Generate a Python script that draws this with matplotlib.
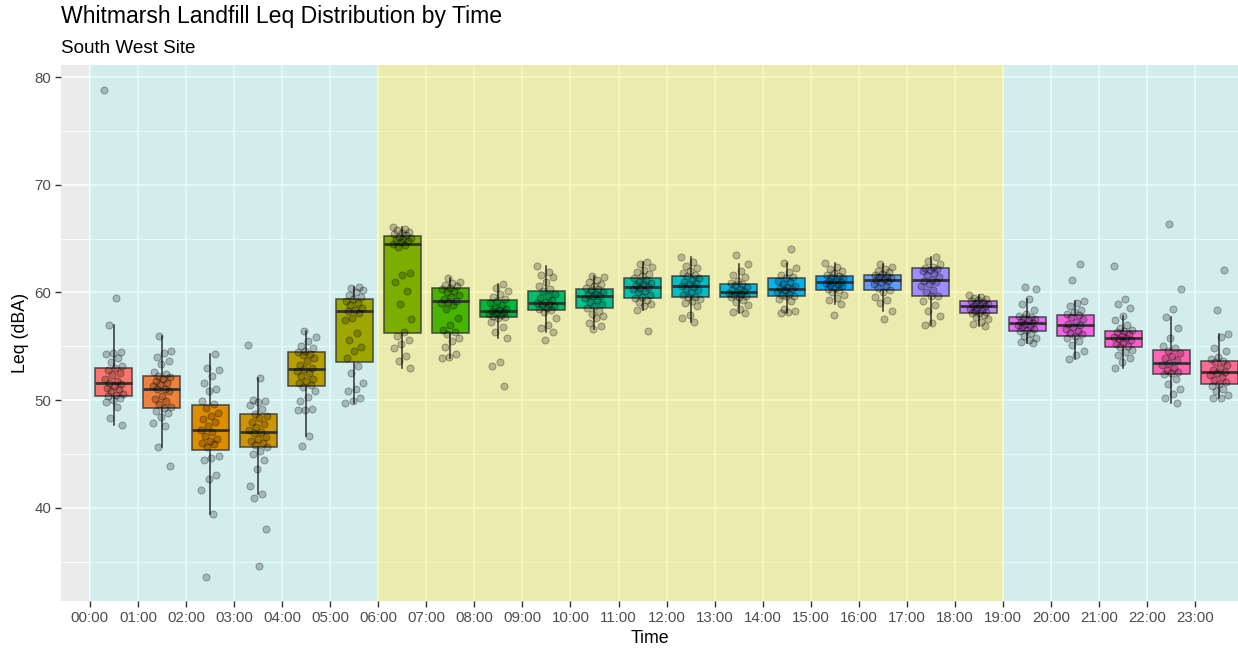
import numpy as np
import matplotlib
matplotlib.use("Agg")
import matplotlib.pyplot as plt

plt.rcParams['font.family'] = ['Liberation Sans', 'DejaVu Sans']

hours = list(range(24))
hour_labels = ["%02d:00" % h for h in hours]

# box statistics per hour: whisker low, Q1, median, Q3, whisker high
whis_lo = [47.7, 45.6, 39.4, 41.3, 46.65, 49.7, 53.0, 53.9, 55.75, 56.35, 56.65, 58.4,
           57.3, 58.1, 58.1, 58.9, 58.3, 56.95, 56.9, 55.35, 53.85, 53.0, 49.75, 50.15]
q1 = [50.35, 49.25, 45.4, 45.6, 51.3, 53.5, 56.2, 56.25, 57.7, 58.4, 58.55, 59.5,
      59.55, 59.55, 59.65, 60.25, 60.25, 59.65, 58.05, 56.4, 56.0, 54.9, 52.4, 51.5]
median = [51.6, 51.05, 47.25, 47.0, 52.85, 58.3, 64.55, 59.25, 58.3, 59.0, 59.65, 60.55,
          60.6, 60.0, 60.35, 60.95, 61.2, 61.2, 58.7, 57.2, 56.95, 55.8, 53.45, 52.6]
q3 = [53.0, 52.2, 49.5, 48.75, 54.45, 59.4, 65.25, 60.4, 59.3, 60.15, 60.3, 61.3,
      61.5, 60.8, 61.3, 61.5, 61.6, 62.25, 59.2, 57.7, 57.95, 56.4, 54.7, 53.6]
whis_hi = [57.0, 56.0, 54.3, 52.05, 56.4, 60.55, 66.1, 61.35, 60.75, 62.45, 61.5, 62.8,
           63.3, 62.65, 62.7, 62.75, 62.6, 63.3, 59.8, 59.35, 59.25, 57.8, 57.7, 56.1]

# individual Leq readings per hour
leq_00 = [78.8, 59.5, 57.0, 54.5, 54.4, 54.3, 53.9, 53.5, 53.2, 53.0, 52.8, 52.5, 52.3, 52.0, 51.8,
          51.6, 51.5, 51.3, 51.1, 51.0, 50.8, 50.6, 50.5, 50.35, 50.2, 50.0, 49.8, 49.4, 48.3, 47.7]
leq_01 = [56.0, 54.6, 54.4, 54.0, 53.6, 53.4, 52.6, 52.4, 52.2, 52.1, 52.0, 51.8, 51.6, 51.5, 51.3,
          51.05, 51.0, 50.8, 50.4, 50.1, 49.9, 49.6, 49.4, 49.25, 49.0, 48.8, 48.4, 47.9, 47.6, 45.6, 43.9]
leq_02 = [54.3, 53.0, 52.8, 52.2, 51.6, 51.0, 50.8, 49.9, 49.6, 49.3, 48.8, 48.5, 48.2, 48.0, 47.6,
          47.25, 47.0, 46.7, 46.4, 46.2, 46.0, 45.9, 45.6, 44.8, 44.6, 44.4, 43.0, 42.7, 41.6, 39.4, 33.6]
leq_03 = [55.1, 52.05, 50.0, 49.9, 49.8, 49.5, 49.2, 48.7, 48.5, 48.3, 48.0, 47.8, 47.5, 47.2, 47.0,
          46.9, 46.6, 46.4, 46.2, 46.0, 45.8, 45.6, 45.3, 45.0, 44.4, 43.6, 42.0, 41.3, 40.9, 38.0, 34.6]
leq_04 = [56.4, 55.9, 55.5, 55.0, 54.8, 54.6, 54.5, 54.3, 54.2, 53.9, 53.6, 53.3, 53.0, 52.85, 52.7,
          52.5, 52.2, 52.0, 51.8, 51.6, 51.4, 51.2, 50.8, 50.3, 49.9, 49.2, 49.1, 49.1, 46.65, 45.7]
leq_05 = [60.55, 60.4, 60.2, 60.0, 59.8, 59.6, 59.4, 59.2, 59.0, 58.8, 58.6, 58.4, 58.3, 58.1, 57.6,
          57.4, 56.2, 55.6, 54.9, 54.6, 53.9, 53.2, 52.5, 51.6, 51.0, 50.8, 50.2, 49.9, 49.7]
leq_06 = [66.1, 65.9, 65.8, 65.6, 65.5, 65.4, 65.3, 65.2, 65.1, 65.0, 64.9, 64.8, 64.7, 64.55, 64.4,
          64.2, 61.8, 61.6, 61.0, 60.1, 58.9, 57.5, 56.3, 56.0, 55.6, 55.2, 54.8, 54.1, 53.6, 53.0]
leq_07 = [61.35, 61.0, 60.9, 60.7, 60.6, 60.4, 60.3, 60.1, 60.0, 59.8, 59.6, 59.4, 59.25, 59.1, 59.0,
          58.8, 58.5, 57.6, 57.0, 56.5, 56.3, 56.1, 55.8, 55.5, 54.9, 54.3, 54.0, 53.9]
leq_08 = [60.75, 60.4, 60.1, 59.9, 59.6, 59.4, 59.2, 59.0, 58.8, 58.6, 58.5, 58.4, 58.3, 58.2, 58.1,
          58.0, 57.9, 57.8, 57.7, 57.6, 57.3, 56.8, 56.3, 55.75, 53.5, 53.2, 51.3]
leq_09 = [62.45, 61.9, 61.6, 61.4, 61.0, 60.6, 60.3, 60.1, 59.9, 59.7, 59.5, 59.3, 59.1, 59.0, 58.9,
          58.8, 58.7, 58.6, 58.5, 58.4, 58.2, 57.6, 57.0, 56.7, 56.35, 55.6]
leq_10 = [61.5, 61.4, 61.2, 61.0, 60.8, 60.6, 60.4, 60.3, 60.2, 60.0, 59.9, 59.8, 59.7, 59.65, 59.5,
          59.3, 59.1, 58.9, 58.7, 58.55, 58.3, 58.0, 57.8, 57.6, 57.2, 56.9, 56.65]
leq_11 = [62.8, 62.6, 62.4, 62.1, 61.9, 61.7, 61.5, 61.3, 61.2, 61.0, 60.9, 60.8, 60.7, 60.55, 60.4,
          60.3, 60.1, 60.0, 59.8, 59.6, 59.5, 59.3, 59.1, 58.9, 58.7, 58.4, 56.4]
leq_12 = [63.3, 62.8, 62.5, 62.3, 62.0, 61.8, 61.6, 61.5, 61.3, 61.2, 61.0, 60.9, 60.8, 60.6, 60.5,
          60.3, 60.2, 60.0, 59.8, 59.6, 59.55, 59.4, 59.2, 59.0, 58.7, 57.9, 57.6, 57.3]
leq_13 = [63.5, 62.65, 62.0, 61.6, 61.4, 61.1, 60.9, 60.8, 60.7, 60.5, 60.3, 60.2, 60.1, 60.0, 59.95,
          59.9, 59.8, 59.7, 59.6, 59.55, 59.3, 59.1, 58.8, 58.5, 58.2, 58.1]
leq_14 = [64.0, 62.7, 62.3, 61.9, 61.6, 61.4, 61.3, 61.1, 61.0, 60.8, 60.6, 60.5, 60.4, 60.35, 60.2,
          60.0, 59.9, 59.8, 59.7, 59.65, 59.4, 59.2, 58.5, 58.3, 58.2, 58.1]
leq_15 = [62.75, 62.4, 62.2, 62.0, 61.8, 61.6, 61.5, 61.4, 61.3, 61.2, 61.1, 61.0, 60.95, 60.9, 60.8,
          60.7, 60.6, 60.4, 60.3, 60.25, 60.0, 59.8, 59.5, 59.3, 58.9, 57.9]
leq_16 = [62.6, 62.4, 62.2, 62.0, 61.9, 61.7, 61.6, 61.5, 61.4, 61.3, 61.25, 61.2, 61.1, 61.0, 60.8,
          60.6, 60.4, 60.25, 60.0, 59.6, 59.3, 59.0, 58.3, 57.5]
leq_17 = [63.3, 62.9, 62.6, 62.4, 62.3, 62.2, 62.1, 62.0, 61.8, 61.6, 61.4, 61.2, 61.1, 61.0, 60.8,
          60.6, 60.2, 60.0, 59.7, 59.65, 59.2, 58.8, 58.3, 57.8, 57.2, 56.95]
leq_18 = [59.8, 59.6, 59.5, 59.4, 59.3, 59.2, 59.1, 59.0, 58.9, 58.8, 58.7, 58.7, 58.6, 58.5, 58.4,
          58.3, 58.2, 58.1, 58.05, 57.9, 57.7, 57.5, 57.3, 57.1, 56.9]
leq_19 = [60.5, 60.3, 59.35, 58.9, 58.4, 58.0, 57.8, 57.7, 57.6, 57.5, 57.4, 57.3, 57.2, 57.1, 57.0,
          56.9, 56.8, 56.6, 56.5, 56.4, 56.2, 56.0, 55.8, 55.6, 55.4, 55.35]
leq_20 = [62.6, 61.2, 59.25, 59.0, 58.7, 58.4, 58.2, 58.0, 57.9, 57.7, 57.5, 57.3, 57.1, 56.95, 56.8,
          56.6, 56.4, 56.2, 56.1, 56.0, 55.8, 55.5, 55.1, 54.6, 54.2, 53.85]
leq_21 = [62.45, 59.4, 58.9, 58.6, 57.8, 57.4, 57.0, 56.7, 56.5, 56.4, 56.3, 56.1, 56.0, 55.9, 55.8,
          55.7, 55.6, 55.4, 55.2, 55.0, 54.9, 54.7, 54.5, 54.2, 53.9, 53.5, 53.0]
leq_22 = [66.4, 60.3, 58.5, 57.7, 56.7, 55.8, 55.0, 54.8, 54.6, 54.4, 54.1, 53.9, 53.7, 53.45, 53.3,
          53.0, 52.8, 52.6, 52.5, 52.4, 52.0, 51.5, 51.0, 50.6, 50.2, 49.75]
leq_23 = [62.1, 58.35, 56.1, 55.9, 54.8, 54.6, 54.0, 53.8, 53.6, 53.5, 53.3, 53.0, 52.8, 52.6, 52.5,
          52.3, 52.1, 51.9, 51.7, 51.5, 51.3, 51.0, 50.8, 50.5, 50.2, 50.15]

readings = [leq_00, leq_01, leq_02, leq_03, leq_04, leq_05, leq_06, leq_07, leq_08, leq_09,
            leq_10, leq_11, leq_12, leq_13, leq_14, leq_15, leq_16, leq_17, leq_18, leq_19,
            leq_20, leq_21, leq_22, leq_23]

# day / night periods (start hour, end hour, fill, alpha)
periods = [(0, 6, 'cyan', 0.10), (6, 19, '#EBEB00', 0.25), (19, 24, 'cyan', 0.10)]


def hue_pal(n, l=65, c=100):
    # ggplot2-style evenly spaced HCL hues
    hues = np.linspace(15, 375, n + 1)[:n]
    xn, yn, zn = 95.047, 100.0, 108.883
    un = 4 * xn / (xn + 15 * yn + 3 * zn)
    vn = 9 * yn / (xn + 15 * yn + 3 * zn)
    m = np.array([[3.2404542, -1.5371385, -0.4985314],
                  [-0.9692660, 1.8760108, 0.0415560],
                  [0.0556434, -0.2040259, 1.0572252]])
    out = []
    for h in hues:
        u = c * np.cos(np.radians(h))
        v = c * np.sin(np.radians(h))
        y = yn * ((l + 16) / 116) ** 3
        up = u / (13 * l) + un
        vp = v / (13 * l) + vn
        x = 9 * y * up / (4 * vp)
        z = (12 - 3 * up - 20 * vp) * y / (4 * vp)
        rgb = m @ (np.array([x, y, z]) / 100)
        rgb = np.where(rgb <= 0.0031308, 12.92 * rgb,
                       1.055 * np.clip(rgb, 0, None) ** (1 / 2.4) - 0.055)
        out.append(tuple(np.clip(rgb, 0, 1)))
    return out


fills = hue_pal(24)

fig = plt.figure(figsize=(12.38, 6.53), dpi=100)
ax = fig.add_axes([0.0493, 0.0796, 0.9507, 0.8209])
ax.set_facecolor('#EBEBEB')

for s, e, col, a in periods:
    ax.axvspan(s, e, color=col, alpha=a, lw=0, zorder=1)

centers = [h + 0.5 for h in hours]
stats = []
for i in hours:
    stats.append(dict(med=median[i], q1=q1[i], q3=q3[i],
                      whislo=whis_lo[i], whishi=whis_hi[i], fliers=[]))

edge = '#333333'
bp = ax.bxp(stats, positions=centers, widths=0.77, patch_artist=True,
            showcaps=False, showfliers=False, manage_ticks=False,
            boxprops=dict(edgecolor=edge, linewidth=1.1),
            whiskerprops=dict(color=edge, linewidth=1.1),
            medianprops=dict(color=edge, linewidth=2.0),
            zorder=3)
for patch, col in zip(bp['boxes'], fills):
    patch.set_facecolor(col)
    patch.set_edgecolor((0.2, 0.2, 0.2, 0.85))

# jittered readings, spread evenly inside each hour
golden = 0.6180339887
for i, vals in enumerate(readings):
    n = len(vals)
    offs = np.array([((k * golden + 0.37 * (i % 3)) % 1.0) - 0.5 for k in range(n)]) * 0.4
    ax.scatter(centers[i] + offs, vals, s=26, facecolor=(0, 0, 0, 0.22),
               edgecolor=(0, 0, 0, 0.35), linewidth=0.6, zorder=4)

ax.set_xlim(-0.6, 23.89)
ax.set_ylim(31.33, 81.14)
ax.set_xticks(hours)
ax.set_xticklabels(hour_labels)
ax.set_yticks([40, 50, 60, 70, 80])
ax.set_yticks([35, 45, 55, 65, 75], minor=True)
ax.grid(which='major', color='white', linewidth=1.1, zorder=0.5)
ax.grid(which='minor', axis='y', color='white', linewidth=0.6, zorder=0.5)
ax.set_axisbelow(True)
ax.tick_params(axis='both', which='major', length=4, width=1.0, color='#333333',
               labelcolor='#4D4D4D', labelsize=10.8, pad=3)
ax.tick_params(axis='y', which='minor', length=0)
for sp in ax.spines.values():
    sp.set_visible(False)

ax.set_xlabel('Time', fontsize=12.8, color='black', labelpad=4)
ax.set_ylabel('Leq (dBA)', fontsize=12.8, color='black', labelpad=4)

fig.text(0.0493, 0.992, 'Whitmarsh Landfill Leq Distribution by Time', fontsize=16.6,
         ha='left', va='top')
fig.text(0.0493, 0.938, 'South West Site', fontsize=13.6, ha='left', va='top')

fig.savefig('out.png', dpi=100)
